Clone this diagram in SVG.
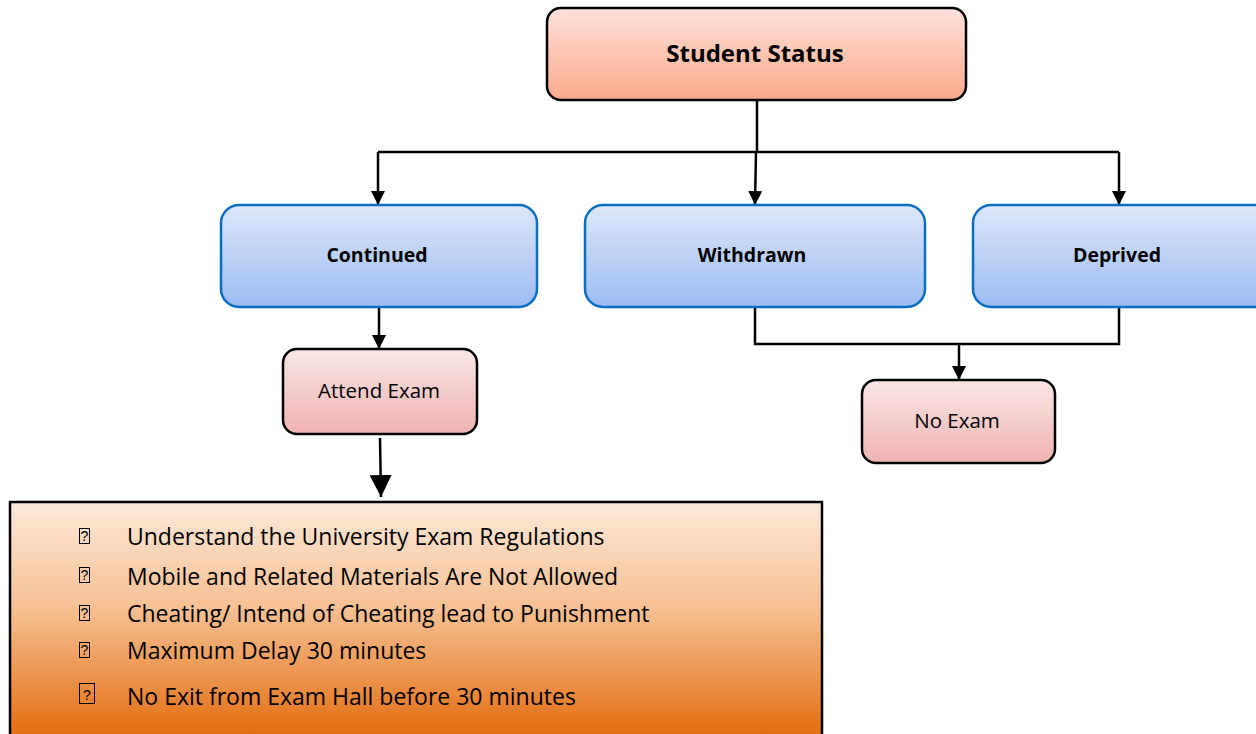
<svg xmlns="http://www.w3.org/2000/svg" width="1256" height="734" viewBox="0 0 1256 734">
<defs>
<linearGradient id="gTop" x1="0" y1="0" x2="0" y2="1"><stop offset="0" stop-color="#fde2da"/><stop offset="1" stop-color="#fba98a"/></linearGradient>
<linearGradient id="gBlue" x1="0" y1="0" x2="0" y2="1"><stop offset="0" stop-color="#dde7f9"/><stop offset="1" stop-color="#9cbcf2"/></linearGradient>
<linearGradient id="gPink" x1="0" y1="0" x2="0" y2="1"><stop offset="0" stop-color="#f9e6e6"/><stop offset="1" stop-color="#efb3b1"/></linearGradient>
<linearGradient id="gOrange" x1="0" y1="0" x2="0" y2="1"><stop offset="0" stop-color="#fde9da"/><stop offset="0.45" stop-color="#f6bf91"/><stop offset="1" stop-color="#e2690a"/></linearGradient>
<marker id="arr" viewBox="0 0 10 10" refX="10" refY="5" markerWidth="14" markerHeight="14" markerUnits="userSpaceOnUse" orient="auto"><path d="M0,0 L10,5 L0,10 z" fill="#000"/></marker>
<marker id="arrBig" viewBox="0 0 10 10" refX="10" refY="5" markerWidth="22" markerHeight="22" markerUnits="userSpaceOnUse" orient="auto"><path d="M0,0 L10,5 L0,10 z" fill="#000"/></marker>
</defs>
<style>
text{font-family:"Open Sans","Liberation Sans",sans-serif;fill:#000}
.b{font-weight:bold}
.conn{fill:none;stroke:#000;stroke-width:2.5}
.blue{fill:url(#gBlue);stroke:#0a6fc2;stroke-width:2.5}
.pink{fill:url(#gPink);stroke:#000;stroke-width:2.5}
.bul{font-size:23px}
.bx{fill:none;stroke:#000;stroke-width:1}
.q{font-family:"Liberation Sans",sans-serif;font-size:14px;text-anchor:middle}
</style>
<g id="connectors">
<path class="conn" d="M757,100 L757,152 M378,152 L1119,152"/>
<path class="conn" d="M378,152 L378,205" marker-end="url(#arr)"/>
<path class="conn" d="M756,152 L755,205" marker-end="url(#arr)"/>
<path class="conn" d="M1119,152 L1119,205" marker-end="url(#arr)"/>
<path class="conn" d="M379,307 L379,349" marker-end="url(#arr)"/>
<path class="conn" d="M380,438 L381,497" marker-end="url(#arrBig)"/>
<path class="conn" d="M755,307 L755,344 L1119,344 L1119,307"/>
<path class="conn" d="M959,344 L959,380" marker-end="url(#arr)"/>
</g>
<g id="student-status">
<rect x="547" y="8" width="419" height="92" rx="14" fill="url(#gTop)" stroke="#000" stroke-width="2.5"/>
<text class="b" x="755" y="62" font-size="24" text-anchor="middle">Student Status</text>
</g>
<g id="continued">
<rect class="blue" x="221" y="205" width="316" height="102" rx="18"/>
<text class="b" x="377" y="262" font-size="19.5" text-anchor="middle">Continued</text>
</g>
<g id="withdrawn">
<rect class="blue" x="585" y="205" width="340" height="102" rx="18"/>
<text class="b" x="752" y="262" font-size="19.5" text-anchor="middle">Withdrawn</text>
</g>
<g id="deprived">
<rect class="blue" x="973" y="205" width="300" height="102" rx="18"/>
<text class="b" x="1117" y="262" font-size="19.5" text-anchor="middle">Deprived</text>
</g>
<g id="attend-exam">
<rect class="pink" x="283" y="349" width="194" height="85" rx="14"/>
<text x="379" y="398" font-size="20.5" text-anchor="middle">Attend Exam</text>
</g>
<g id="no-exam">
<rect class="pink" x="862" y="380" width="193" height="83" rx="14"/>
<text x="957" y="428" font-size="20.5" text-anchor="middle">No Exam</text>
</g>
<g id="rules">
<rect x="10" y="502" width="812" height="240" fill="url(#gOrange)" stroke="#000" stroke-width="2.5"/>
<rect class="bx" x="79.5" y="528.5" width="10" height="15"/><text class="q" x="84.5" y="541">?</text>
<text class="bul" x="127" y="545">Understand the University Exam Regulations</text>
<rect class="bx" x="79.5" y="567.5" width="10" height="15"/><text class="q" x="84.5" y="580">?</text>
<text class="bul" x="127" y="585">Mobile and Related Materials Are Not Allowed</text>
<rect class="bx" x="79.5" y="605.5" width="10" height="15"/><text class="q" x="84.5" y="618">?</text>
<text class="bul" x="127" y="622">Cheating/ Intend of Cheating lead to Punishment</text>
<rect class="bx" x="79.5" y="642.5" width="10" height="15"/><text class="q" x="84.5" y="655">?</text>
<text class="bul" x="127" y="659">Maximum Delay 30 minutes</text>
<rect class="bx" x="79.5" y="683.5" width="15" height="20" stroke-width="1.5"/><text class="q" x="87" y="700" font-size="17">?</text>
<text class="bul" x="127" y="705">No Exit from Exam Hall before 30 minutes</text>
</g>
</svg>
